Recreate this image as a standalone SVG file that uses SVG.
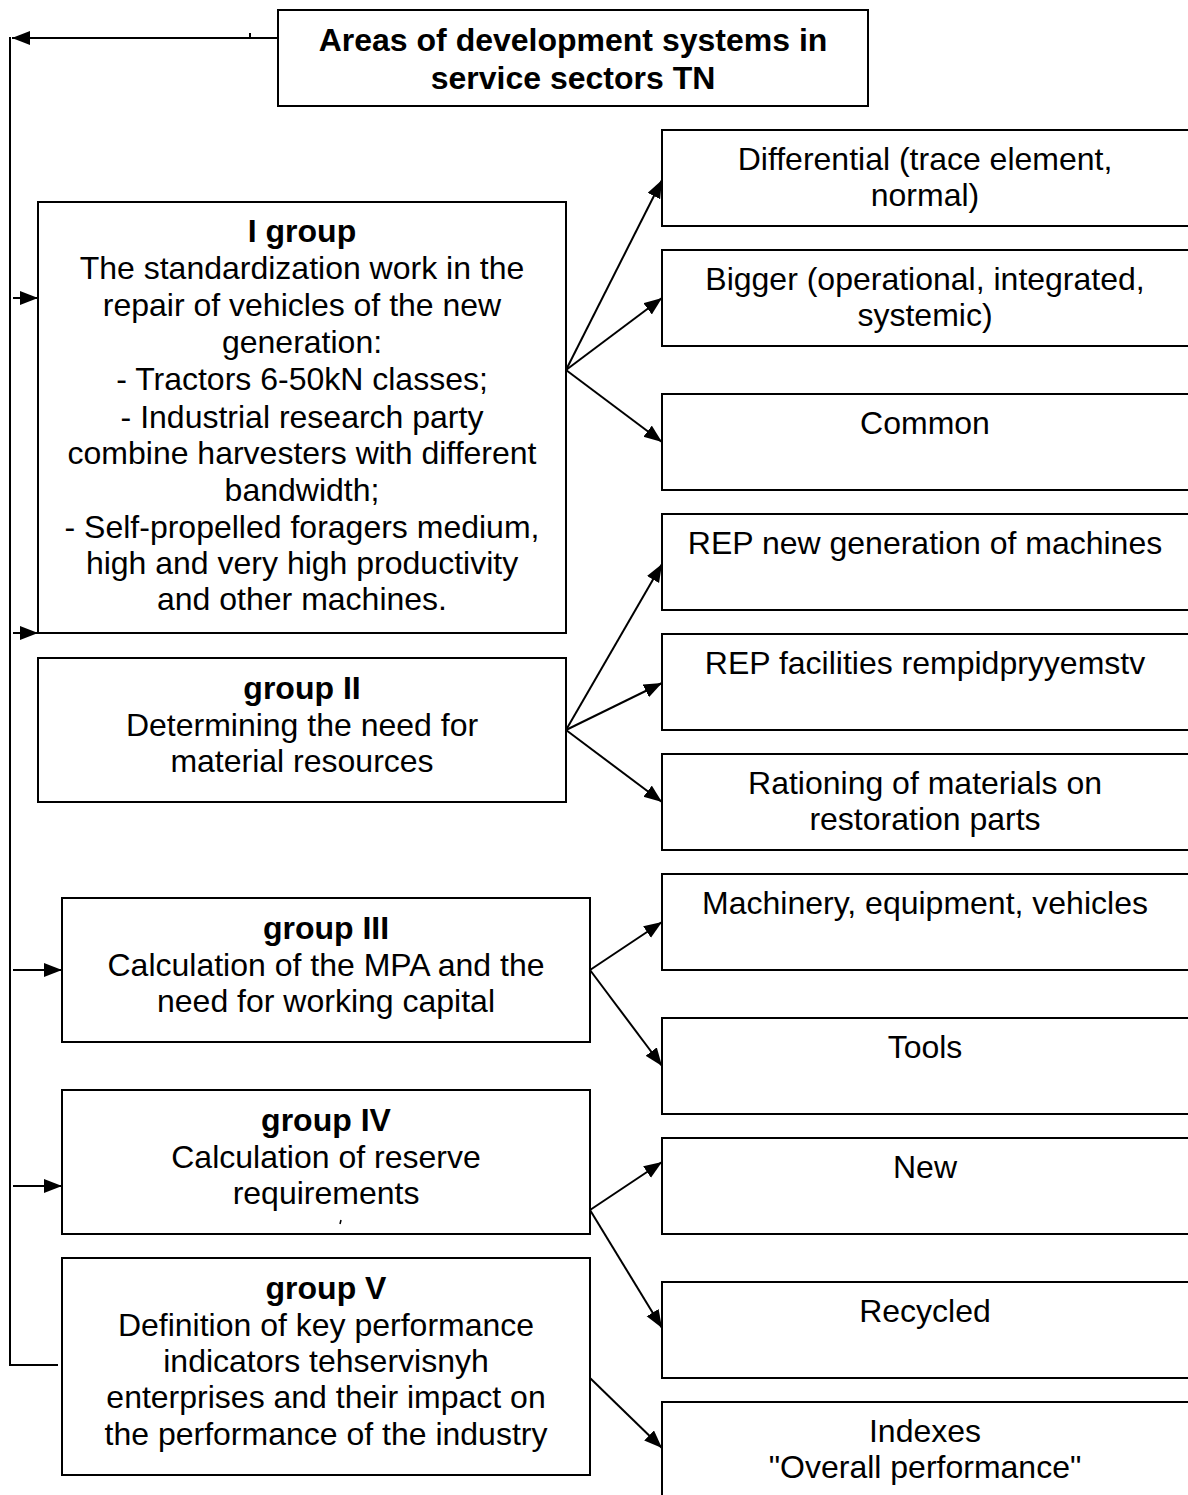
<svg xmlns="http://www.w3.org/2000/svg" width="1188" height="1495" viewBox="0 0 1188 1495">
<style>
.box{fill:#fff;stroke:#000;stroke-width:2}
.t{font-family:"Liberation Sans",Arial,sans-serif;font-size:32px;text-anchor:middle;fill:#000}
.b{font-weight:bold}
.c{fill:none;stroke:#000;stroke-width:2}
</style>
<defs>
<marker id="ah" markerUnits="userSpaceOnUse" markerWidth="20" markerHeight="16" refX="18" refY="7" orient="auto">
<path d="M0,0 L18,7 L0,14 Z" fill="#000"/>
</marker>
</defs>
<rect width="1188" height="1495" fill="#fff"/>
<g id="connectors">
<line class="c" x1="278" y1="38" x2="12" y2="38" marker-end="url(#ah)"/>
<line class="c" x1="250" y1="33" x2="250" y2="38"/>
<line class="c" x1="10" y1="37" x2="10" y2="1366"/>
<line class="c" x1="9" y1="1365" x2="58" y2="1365"/>
<line class="c" x1="13" y1="298" x2="38" y2="298" marker-end="url(#ah)"/>
<line class="c" x1="13" y1="633" x2="38" y2="633" marker-end="url(#ah)"/>
<line class="c" x1="13" y1="970" x2="62" y2="970" marker-end="url(#ah)"/>
<line class="c" x1="13" y1="1186" x2="62" y2="1186" marker-end="url(#ah)"/>
<line class="c" x1="566" y1="370" x2="662" y2="180" marker-end="url(#ah)"/>
<line class="c" x1="566" y1="370" x2="662" y2="298" marker-end="url(#ah)"/>
<line class="c" x1="566" y1="370" x2="662" y2="442" marker-end="url(#ah)"/>
<line class="c" x1="566" y1="730" x2="662" y2="564" marker-end="url(#ah)"/>
<line class="c" x1="566" y1="730" x2="662" y2="683" marker-end="url(#ah)"/>
<line class="c" x1="566" y1="730" x2="662" y2="802" marker-end="url(#ah)"/>
<line class="c" x1="590" y1="970" x2="662" y2="922" marker-end="url(#ah)"/>
<line class="c" x1="590" y1="970" x2="662" y2="1066" marker-end="url(#ah)"/>
<line class="c" x1="590" y1="1210" x2="662" y2="1162" marker-end="url(#ah)"/>
<line class="c" x1="590" y1="1210" x2="662" y2="1328" marker-end="url(#ah)"/>
<line class="c" x1="590" y1="1378" x2="662" y2="1448" marker-end="url(#ah)"/>
</g>
<g id="top">
<rect class="box" x="278" y="10" width="590" height="96"/>
<text class="t b" x="573" y="51">Areas of development systems in</text>
<text class="t b" x="573" y="89">service sectors TN</text>
</g>
<g id="g1">
<rect class="box" x="38" y="202" width="528" height="431"/>
<text class="t b" x="302" y="242">I group</text>
<text class="t" x="302" y="279">The standardization work in the</text>
<text class="t" x="302" y="316">repair of vehicles of the new</text>
<text class="t" x="302" y="353">generation:</text>
<text class="t" x="302" y="390">- Tractors 6-50kN classes;</text>
<text class="t" x="302" y="428">- Industrial research party</text>
<text class="t" x="302" y="464">combine harvesters with different</text>
<text class="t" x="302" y="501">bandwidth;</text>
<text class="t" x="302" y="538">- Self-propelled foragers medium,</text>
<text class="t" x="302" y="574">high and very high productivity</text>
<text class="t" x="302" y="610">and other machines.</text>
</g>
<g id="g2">
<rect class="box" x="38" y="658" width="528" height="144"/>
<text class="t b" x="302" y="699">group II</text>
<text class="t" x="302" y="736">Determining the need for</text>
<text class="t" x="302" y="772">material resources</text>
</g>
<g id="g3">
<rect class="box" x="62" y="898" width="528" height="144"/>
<text class="t b" x="326" y="939">group III</text>
<text class="t" x="326" y="976">Calculation of the MPA and the</text>
<text class="t" x="326" y="1012">need for working capital</text>
</g>
<g id="g4">
<rect class="box" x="62" y="1090" width="528" height="144"/>
<text class="t b" x="326" y="1131">group IV</text>
<text class="t" x="326" y="1168">Calculation of reserve</text>
<text class="t" x="326" y="1204">requirements</text>
<line x1="341" y1="1220" x2="340" y2="1224" stroke="#000" stroke-width="1.5"/>
</g>
<g id="g5">
<rect class="box" x="62" y="1258" width="528" height="217"/>
<text class="t b" x="326" y="1299">group V</text>
<text class="t" x="326" y="1336">Definition of key performance</text>
<text class="t" x="326" y="1372">indicators tehservisnyh</text>
<text class="t" x="326" y="1408">enterprises and their impact on</text>
<text class="t" x="326" y="1445">the performance of the industry</text>
</g>
<g id="r1"><rect class="box" x="662" y="130" width="530" height="96"/>
<text class="t" x="925" y="170">Differential (trace element,</text>
<text class="t" x="925" y="206">normal)</text></g>
<g id="r2"><rect class="box" x="662" y="250" width="530" height="96"/>
<text class="t" x="925" y="290">Bigger (operational, integrated,</text>
<text class="t" x="925" y="326">systemic)</text></g>
<g id="r3"><rect class="box" x="662" y="394" width="530" height="96"/>
<text class="t" x="925" y="434">Common</text></g>
<g id="r4"><rect class="box" x="662" y="514" width="530" height="96"/>
<text class="t" x="925" y="554">REP new generation of machines</text></g>
<g id="r5"><rect class="box" x="662" y="634" width="530" height="96"/>
<text class="t" x="925" y="674">REP facilities rempidpryyemstv</text></g>
<g id="r6"><rect class="box" x="662" y="754" width="530" height="96"/>
<text class="t" x="925" y="794">Rationing of materials on</text>
<text class="t" x="925" y="830">restoration parts</text></g>
<g id="r7"><rect class="box" x="662" y="874" width="530" height="96"/>
<text class="t" x="925" y="914">Machinery, equipment, vehicles</text></g>
<g id="r8"><rect class="box" x="662" y="1018" width="530" height="96"/>
<text class="t" x="925" y="1058">Tools</text></g>
<g id="r9"><rect class="box" x="662" y="1138" width="530" height="96"/>
<text class="t" x="925" y="1178">New</text></g>
<g id="r10"><rect class="box" x="662" y="1282" width="530" height="96"/>
<text class="t" x="925" y="1322">Recycled</text></g>
<g id="r11"><rect class="box" x="662" y="1402" width="530" height="100"/>
<text class="t" x="925" y="1442">Indexes</text>
<text class="t" x="925" y="1478">"Overall performance"</text></g>
</svg>
